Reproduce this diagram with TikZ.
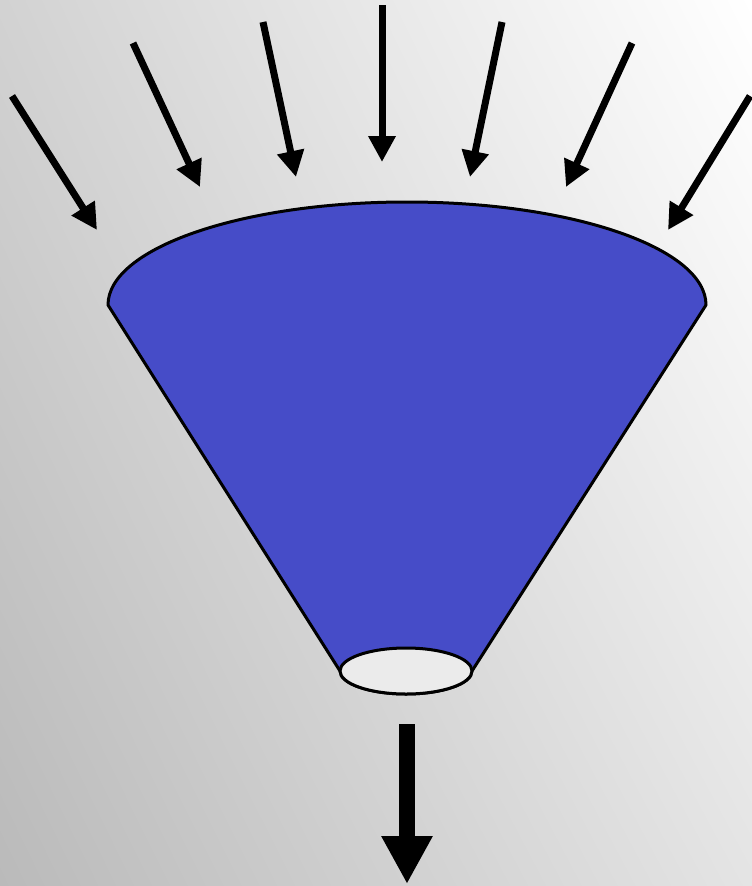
\documentclass[tikz,border=0pt]{standalone}
\usetikzlibrary{arrows.meta, shadings}
\definecolor{funnelblue}{RGB}{70,76,200}
\definecolor{bgdark}{RGB}{186,186,186}
\definecolor{bgmid}{RGB}{210,210,210}
\definecolor{bgright}{RGB}{228,228,228}
\tikzset{
    inflow/.style={line width=7pt, -{Triangle[width=26pt, length=26pt]}},
    outflow/.style={line width=16pt, -{Triangle[width=48pt, length=48pt]}},
    funnelline/.style={line width=3pt, line join=round}
}
\begin{document}
\begin{tikzpicture}[x=1pt, y=-1pt]
    % background
    \useasboundingbox (0,0) rectangle (752,886);
    \shade[upper left=bgmid, upper right=white, lower left=bgdark, lower right=bgright]
        (0,0) rectangle (752,886);

    % funnel body
    \coordinate (topleft) at (108,305);
    \coordinate (botright) at (472,671);
    \filldraw[funnelline, fill=funnelblue]
        (topleft) arc[start angle=180, end angle=360, x radius=299, y radius=103]
        -- (botright) arc[start angle=0, end angle=180, x radius=66, y radius=23]
        -- cycle;
    \filldraw[funnelline, fill=gray!16] (406,671) ellipse[x radius=66, y radius=23];

    % incoming arrows
    \foreach \xa/\ya/\xb/\yb in {12/96/97/230, 133/43/200/187, 263/22/296/177,
        382/5/382/162, 502/22/470/177, 632/43/566/187, 750/96/668/230} {
        \coordinate (in-a) at (\xa,\ya);
        \coordinate (in-b) at (\xb,\yb);
        \draw[inflow] (in-a) -- (in-b);
    }

    % outgoing arrow
    \coordinate (out-a) at (407,724);
    \coordinate (out-b) at (407,884);
    \draw[outflow] (out-a) -- (out-b);
\end{tikzpicture}
\end{document}
